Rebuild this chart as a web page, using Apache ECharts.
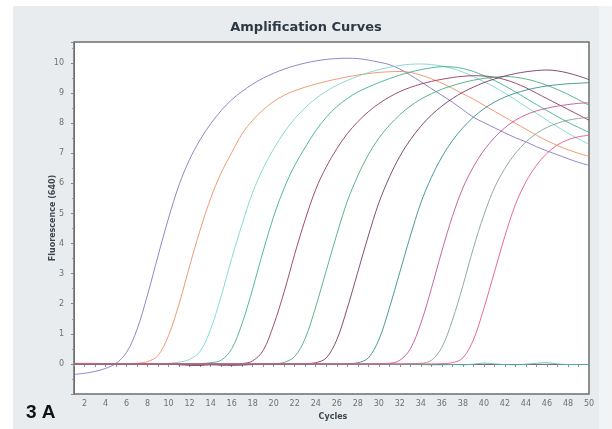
<!DOCTYPE html>
<html>
<head>
<meta charset="utf-8">
<script src="https://cdn.jsdelivr.net/npm/echarts@6/dist/echarts.min.js"></script>
<style>
html,body{margin:0;padding:0;background:#ffffff;}
#chart{width:612px;height:429px;}
</style>
</head>
<body>
<div id="chart"></div>
<script>
// ---- data ----
const cycles = [1,2,3,4,5,6,7,8,9,10,11,12,13,14,15,16,17,18,19,20,21,22,23,24,25,26,27,28,29,30,31,32,33,34,35,36,37,38,39,40,41,42,43,44,45,46,47,48,49,50];

const purple = [-0.35,-0.31,-0.25,-0.15,0.02,0.38,1.15,2.3,3.6,4.85,5.95,6.8,7.45,7.98,8.42,8.78,9.06,9.3,9.5,9.66,9.8,9.91,10.0,10.07,10.12,10.15,10.16,10.15,10.1,10.03,9.95,9.8,9.6,9.38,9.15,8.93,8.7,8.45,8.2,8.02,7.85,7.68,7.52,7.38,7.22,7.08,6.95,6.82,6.7,6.6];
const orange = [0.02,0.02,0.02,0.01,0.0,0.01,0.02,0.08,0.28,0.95,2.0,3.25,4.45,5.5,6.35,7.02,7.65,8.1,8.45,8.72,8.93,9.08,9.2,9.3,9.39,9.47,9.54,9.6,9.65,9.69,9.71,9.72,9.69,9.6,9.48,9.33,9.16,8.98,8.8,8.6,8.4,8.2,8.0,7.8,7.6,7.42,7.26,7.12,7.0,6.9];
const cyan = [0,0,0,0,0,0,0,0,0,0.02,0.06,0.15,0.42,1.15,2.25,3.5,4.65,5.7,6.5,7.15,7.7,8.15,8.52,8.82,9.06,9.26,9.42,9.56,9.68,9.78,9.86,9.92,9.96,9.97,9.95,9.9,9.82,9.7,9.55,9.38,9.2,9.0,8.78,8.55,8.33,8.1,7.88,7.67,7.48,7.3];
const tealGreen = [0,0,0,0,0,0,0,0,0,0,0,0,0.01,0.04,0.12,0.5,1.35,2.5,3.75,4.9,5.85,6.6,7.2,7.75,8.2,8.55,8.82,9.04,9.2,9.35,9.48,9.6,9.7,9.78,9.84,9.88,9.87,9.82,9.72,9.58,9.42,9.24,9.04,8.83,8.62,8.42,8.22,8.03,7.86,7.7];
const maroon = [0,0,0,0,0,0,0,0,0,0,-0.03,-0.04,-0.03,0,-0.03,-0.01,0.01,0.1,0.45,1.3,2.4,3.65,4.8,5.8,6.55,7.15,7.65,8.05,8.38,8.65,8.87,9.05,9.19,9.3,9.39,9.46,9.52,9.56,9.58,9.57,9.53,9.45,9.33,9.18,9.0,8.82,8.64,8.46,8.28,8.1];
const green = [0,0,0,0,0,0,0,0,0,0,0,0,0,0,0,0,0,0,0,0.01,0.05,0.25,0.85,1.9,3.1,4.3,5.4,6.25,6.95,7.5,7.93,8.28,8.57,8.8,8.98,9.13,9.25,9.35,9.43,9.49,9.53,9.55,9.53,9.47,9.38,9.26,9.12,8.96,8.78,8.6];
const darkMaroon = [0,0,0,0,0,0,0,0,0,0,0,-0.04,-0.05,-0.03,-0.04,-0.05,-0.04,-0.02,0,0,0,0,0.01,0.04,0.2,0.8,1.85,3.05,4.25,5.35,6.2,6.9,7.45,7.9,8.27,8.57,8.82,9.03,9.2,9.35,9.47,9.57,9.65,9.71,9.75,9.77,9.74,9.67,9.57,9.45];
const darkTeal = [0,0,0,0,0,0,0,0,0,0,0,0,0,0,0,0,0,0,0,0,0,0,0,0,0,0,0.01,0.04,0.2,0.8,1.85,3.05,4.25,5.35,6.2,6.88,7.42,7.85,8.2,8.48,8.7,8.87,9.0,9.1,9.18,9.24,9.28,9.31,9.33,9.35];
const magenta = [0,0,0,0,0,0,0,0,0,0,0,0,0,0,0,0,0,0,0,0,0,0,0,0,0,0,0,0,0,0.01,0.02,0.12,0.5,1.35,2.5,3.75,4.9,5.85,6.55,7.1,7.52,7.85,8.1,8.28,8.41,8.5,8.57,8.62,8.66,8.68];
const grayGreen = [0,0,0,0,0,0,0,0,0,0,0,0,0,0,0,0,0,0,0,0,0,0,0,0,0,0,0,0,0,0,0,0,0.01,0.02,0.12,0.55,1.45,2.6,3.85,4.95,5.85,6.5,7.0,7.38,7.66,7.86,8.0,8.1,8.16,8.2];
const pink = [0,0,0,0,0,0,0,0,0,0,0,0,0,0,0,0,0,0,0,0,0,0,0,0,0,0,0,0,0,0,0,0,0,0,0,0.01,0.04,0.2,0.8,1.85,3.05,4.25,5.3,6.05,6.6,7.0,7.28,7.45,7.55,7.6];
const control = [-0.02,-0.02,-0.02,-0.02,-0.02,-0.02,-0.02,-0.02,-0.02,-0.02,-0.02,-0.02,-0.02,-0.02,-0.02,-0.02,-0.02,-0.02,-0.02,-0.02,-0.02,-0.02,-0.02,-0.02,-0.02,-0.02,-0.02,-0.02,-0.02,-0.02,-0.02,-0.02,-0.02,-0.02,-0.03,-0.03,-0.02,-0.03,-0.01,0.03,0.0,-0.02,-0.03,-0.01,0.02,0.04,0.0,-0.02,-0.02,-0.02];

const seriesNames = ['Control','Sample 1','Sample 2','Sample 3','Sample 4','Sample 5','Sample 6','Sample 7','Sample 8','Sample 9','Sample 10','Sample 11'];
const seriesValues = [control, purple, orange, cyan, tealGreen, maroon, green, darkMaroon, darkTeal, magenta, grayGreen, pink];
const seriesColors = ['#4fb8b4','#7b72c2','#f0875a','#72d3cf','#33ad8c','#8c2f58','#3ea874','#6e2f5a','#2b8888','#bf4a92','#7f9e8e','#e5507c'];

const yTicks = [0,1,2,3,4,5,6,7,8,9,10];
const xTickLabels = [2,4,6,8,10,12,14,16,18,20,22,24,26,28,30,32,34,36,38,40,42,44,46,48,50];

const chart = echarts.init(document.getElementById('chart'), null, {renderer:'canvas'});

const series = seriesValues.map((vals, i) => ({
  name: seriesNames[i],
  type: 'line',
  data: cycles.map((c, j) => [c, vals[j]]),
  showSymbol: false,
  smooth: 0.35,
  lineStyle: { width: 1, color: seriesColors[i], opacity: 0.85 },
  itemStyle: { color: seriesColors[i] },
  z: 2 + i,
  animation: false
}));

chart.setOption({
  animation: false,
  backgroundColor: '#ffffff',
  graphic: [
    { type: 'rect', left: 13, top: 6, shape: { width: 586, height: 423 }, style: { fill: '#e8ecee' }, z: -10 },
    { type: 'rect', left: 599, top: 6, shape: { width: 13, height: 423 }, style: { fill: '#f1f3f4' }, z: -10 },
    { type: 'text', x: 53, y: 218, rotation: Math.PI / 2, z: 10,
      style: { text: 'Fluorescence (640)', fill: '#3c4750', font: 'bold 8px "DejaVu Sans"', textAlign: 'center', textVerticalAlign: 'middle' } },
    { type: 'text', x: 333, y: 417, z: 10,
      style: { text: 'Cycles', fill: '#3c4750', font: 'bold 8px "DejaVu Sans"', textAlign: 'center', textVerticalAlign: 'middle' } },
    { type: 'text', x: 26, y: 413, z: 10,
      style: { text: '3 A', fill: '#111111', font: 'bold 19px "Liberation Sans"', textAlign: 'left', textVerticalAlign: 'middle' } }
  ],
  title: {
    text: 'Amplification Curves',
    left: 'center',
    top: 21,
    padding: 0,
    textStyle: { fontFamily: 'DejaVu Sans', fontWeight: 'bold', fontSize: 13, color: '#2d3a46' }
  },
  grid: {
    left: 74, top: 42, right: 23, bottom: 35,
    show: true, backgroundColor: '#ffffff', borderColor: '#6e6e6e', borderWidth: 1.5
  },
  xAxis: {
    type: 'value', min: 1, max: 50, interval: 1,
    axisLine: { show: true, lineStyle: { color: '#6e6e6e', width: 1 } },
    axisTick: { show: true, length: 3, lineStyle: { color: '#8a8a8a' } },
    splitLine: { show: false },
    axisLabel: {
      color: '#707070', fontSize: 8, fontFamily: 'DejaVu Sans', margin: 6,
      formatter: v => (xTickLabels.indexOf(v) >= 0 ? String(v) : '')
    }
  },
  yAxis: {
    type: 'value', min: -1, max: 10.7, interval: 1,
    axisLine: { show: true, lineStyle: { color: '#6e6e6e', width: 1 } },
    axisTick: { show: true, length: 3, lineStyle: { color: '#8a8a8a' } },
    minorTick: { show: true, splitNumber: 2, length: 2, lineStyle: { color: '#9a9a9a' } },
    splitLine: { show: false },
    axisLabel: {
      color: '#707070', fontSize: 8, fontFamily: 'DejaVu Sans', margin: 10,
      formatter: v => (yTicks.indexOf(v) >= 0 ? String(v) : '')
    }
  },
  series: series
});
</script>
</body>
</html>
